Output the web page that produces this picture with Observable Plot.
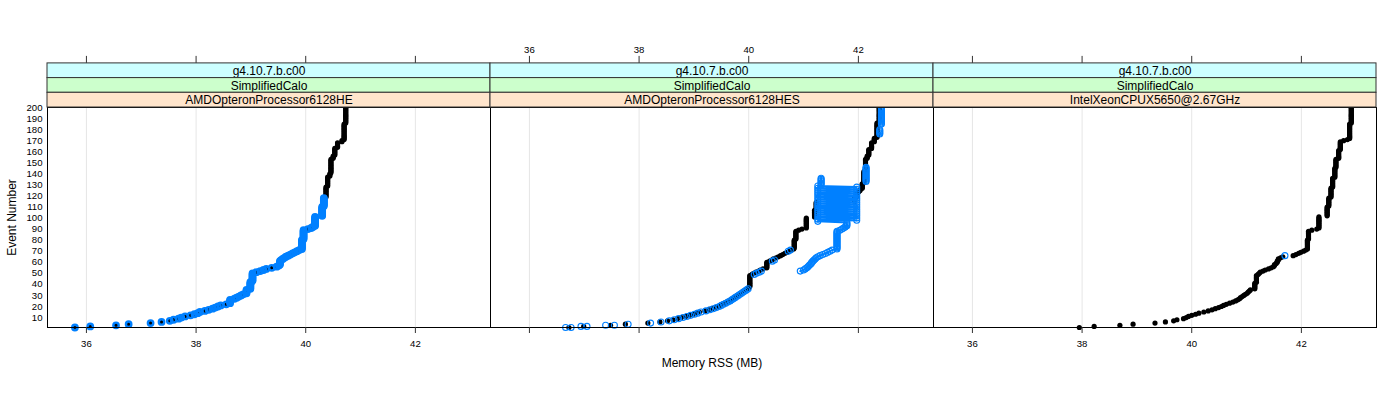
<!DOCTYPE html>
<html>
<head>
<meta charset="utf-8">
<script src="https://cdn.jsdelivr.net/npm/d3@7"></script>
<script src="https://cdn.jsdelivr.net/npm/@observablehq/plot@0.6"></script>
<style>
  body { margin: 0; background: #fff; }
</style>
</head>
<body>
<div id="chart"></div>
<script>
// ---------- data ----------
const panels = ["AMDOpteronProcessor6128HE", "AMDOpteronProcessor6128HES", "IntelXeonCPUX5650@2.67GHz"];
const stripTop = "g4.10.7.b.c00";
const stripMid = "SimplifiedCalo";
const xTicks = [36, 38, 40, 42];
const yTicks = [10, 20, 30, 40, 50, 60, 70, 80, 90, 100, 110, 120, 130, 140, 150, 160, 170, 180, 190, 200];
const xTitle = "Memory RSS (MB)";
const yTitle = "Event Number";

// Memory RSS per event, run-length encoded: [memoryMB, numberOfConsecutiveEvents]
const p1Black = [[35.79,1],[36.07,1],[36.54,1],[36.77,1],[37.17,1],[37.37,1],[37.52,1],[37.59,1],[37.68,1],[37.73,1],[37.80,1],[37.90,1],[37.97,1],[38.03,1],[38.07,1],[38.16,1],[38.23,1],[38.30,1],[38.35,1],[38.40,1],[38.45,1],[38.55,1],[38.62,4],[38.70,1],[38.74,1],[38.78,1],[38.82,1],[38.86,1],[38.92,4],[38.99,7],[39.03,8],[39.10,1],[39.17,1],[39.23,1],[39.28,1],[39.36,1],[39.45,1],[39.50,1],[39.52,4],[39.55,1],[39.58,1],[39.61,1],[39.64,1],[39.68,1],[39.72,1],[39.76,1],[39.80,1],[39.84,1],[39.88,1],[39.93,9],[39.96,9],[40.04,1],[40.10,1],[40.13,1],[40.17,9],[40.30,9],[40.33,8],[40.37,10],[40.40,9],[40.44,3],[40.46,13],[40.50,3],[40.53,7],[40.58,5],[40.66,2],[40.70,15],[40.73,15]];
const p1Blue = [[35.79,1],[36.07,1],[36.54,1],[36.77,1],[37.17,1],[37.37,1],[37.52,1],[37.59,1],[37.68,1],[37.73,1],[37.80,1],[37.90,1],[37.97,1],[38.03,1],[38.07,1],[38.16,1],[38.23,1],[38.30,1],[38.35,1],[38.40,1],[38.45,1],[38.55,1],[38.62,4],[38.70,1],[38.74,1],[38.78,1],[38.82,1],[38.86,1],[38.92,4],[38.99,7],[39.03,8],[39.10,1],[39.17,1],[39.23,1],[39.28,1],[39.38,1],[39.47,1],[39.51,1],[39.53,4],[39.55,1],[39.58,1],[39.61,1],[39.64,1],[39.68,1],[39.72,1],[39.76,1],[39.80,1],[39.84,1],[39.88,1],[39.93,9],[39.96,9],[40.04,1],[40.10,1],[40.13,1],[40.17,9],[40.30,9],[40.33,8]];

const p2Black = [[36.72,1],[36.99,1],[37.48,1],[37.75,1],[38.16,1],[38.38,1],[38.52,1],[38.62,1],[38.70,1],[38.77,1],[38.85,1],[38.92,1],[38.99,1],[39.04,1],[39.10,1],[39.20,1],[39.27,1],[39.33,1],[39.39,1],[39.44,1],[39.48,1],[39.51,1],[39.56,1],[39.60,1],[39.64,1],[39.67,1],[39.70,1],[39.73,1],[39.76,1],[39.79,1],[39.82,1],[39.85,1],[39.88,1],[39.91,1],[39.94,1],[39.97,1],[40.00,1],[40.02,11],[40.06,1],[40.09,1],[40.13,1],[40.18,1],[40.21,1],[40.26,1],[40.33,6],[40.38,1],[40.42,1],[40.45,1],[40.50,1],[40.54,1],[40.58,1],[40.62,1],[40.66,1],[40.70,1],[40.74,1],[40.78,1],[40.82,1],[40.83,8],[40.86,8],[40.91,1],[40.97,1],[41.05,10],[41.20,7],[41.23,7],[41.93,4],[41.96,4],[41.99,1],[42.01,1],[42.03,1],[42.04,1],[42.07,5],[42.10,11],[42.13,11],[42.16,3],[42.19,6],[42.24,6],[42.29,4],[42.34,14],[42.38,14]];
const p2BlueA = [[36.66,1],[36.94,1],[37.39,1],[37.80,1],[38.21,1],[38.40,1],[38.55,1],[38.64,1],[38.72,1],[38.80,1],[38.87,1],[38.94,1],[39.01,1],[39.07,1],[39.13,1],[39.22,1],[39.29,1],[39.35,1],[39.41,1],[39.46,1],[39.50,1],[39.54,1],[39.58,1],[39.62,1],[39.66,1],[39.69,1],[39.72,1],[39.75,1],[39.78,1],[39.81,1],[39.84,1],[39.87,1],[39.90,1],[39.93,1],[39.96,1],[39.99,1]];
const p2BlueA2 = [[36.76,1],[37.05,1],[37.55,1]];
const p2BlueD1 = [[40.10,1],[40.14,1],[40.19,1],[40.23,1]];
const p2BlueD2 = [[40.43,1],[40.47,1]];
const p2BlueD3 = [[40.72,1],[40.76,1]];
const p2BlueB = [[40.94,1],[41.00,1],[41.03,1],[41.06,1],[41.08,1],[41.10,1],[41.12,1],[41.14,1],[41.15,1],[41.17,1],[41.19,1],[41.21,1],[41.23,1],[41.26,1],[41.30,1],[41.35,1],[41.40,1],[41.44,1],[41.48,1],[41.52,1],[41.61,17],[41.66,1],[41.70,1],[41.73,1],[41.76,1],[41.79,4],
  [41.26,1],[41.97,1],[41.26,1],[41.97,1],[41.26,1],[41.97,1],[41.26,1],[41.97,1],[41.26,1],[41.97,1],[41.26,1],[41.97,1],[41.26,1],[41.97,1],[41.26,1],[41.97,1],
  [41.26,1],[41.97,1],[41.26,1],[41.97,1],[41.26,1],[41.97,1],[41.26,1],[41.97,1],[41.26,1],[41.97,1],[41.26,1],[41.97,1],[41.26,1],[41.97,1],[41.26,1],[41.97,1],
  [41.26,1],[41.32,7]];
const p2BlueC1 = [[42.14,14]];
const p2BlueC2 = [[42.39,5]];
const p2BlueC3 = [[42.42,16]];

const p3Black = [[37.95,1],[38.22,1],[38.69,1],[38.93,1],[39.33,1],[39.52,1],[39.67,1],[39.73,1],[39.85,1],[39.90,1],[39.94,1],[40.00,1],[40.07,1],[40.13,1],[40.22,1],[40.30,1],[40.37,1],[40.43,1],[40.49,1],[40.54,1],[40.58,1],[40.63,1],[40.69,1],[40.75,1],[40.80,1],[40.84,1],[40.87,1],[40.89,1],[40.92,1],[40.95,1],[40.98,1],[41.01,1],[41.03,1],[41.05,1],[41.07,1],[41.15,6],[41.18,7],[41.21,1],[41.23,1],[41.25,1],[41.30,1],[41.34,1],[41.40,1],[41.45,1],[41.49,1],[41.51,2],[41.54,1],[41.56,2],[41.58,2],[41.62,1],[41.66,1],[41.85,1],[41.90,1],[41.95,1],[41.99,1],[42.04,1],[42.08,1],[42.11,9],[42.13,8],[42.19,1],[42.28,1],[42.32,11],[42.47,9],[42.50,8],[42.54,9],[42.57,9],[42.61,9],[42.63,8],[42.68,8],[42.71,8],[42.77,1],[42.84,1],[42.88,14],[42.91,15]];
const p3Blue = [[41.70,1]];

// series table: [panel index, group, run id, first event, runs]
const seriesTable = [
  [0, "black", "p1k", 1, p1Black],
  [0, "blue", "p1b", 1, p1Blue],
  [1, "black", "p2k", 1, p2Black],
  [1, "blue", "p2a", 1, p2BlueA],
  [1, "blue", "p2a2", 1, p2BlueA2],
  [1, "blue", "p2d1", 49, p2BlueD1],
  [1, "blue", "p2d2", 61, p2BlueD2],
  [1, "blue", "p2d3", 70, p2BlueD3],
  [1, "blue", "p2b", 52, p2BlueB],
  [1, "blue", "p2c1", 133, p2BlueC1],
  [1, "blue", "p2c2", 176, p2BlueC2],
  [1, "blue", "p2c3", 185, p2BlueC3],
  [2, "black", "p3k", 1, p3Black],
  [2, "blue", "p3b", 66, p3Blue]
];

// decode run-length arrays into one row per event
const rows = [];
for (const [pi, group, run, start, runs] of seriesTable) {
  let e = start;
  for (const [m, n] of runs) {
    for (let k = 0; k < n; k++) rows.push({panel: panels[pi], group, run, e: e++, m});
  }
}
const blackRows = rows.filter(d => d.group === "black");
const blueRows = rows.filter(d => d.group === "blue");
const oscillatingRun = rows.filter(d => d.run === "p2b");

const tickRows = panels.flatMap(p => xTicks.map(t => ({panel: p, t})));
const yTickRows = yTicks.map(v => ({panel: panels[0], v}));

// ---------- layout ----------
const W = 1400, H = 400, ML = 47, MR = 24, MT = 107, MB = 73;
const frameH = H - MT - MB;
const RH = 14.7; // strip row height
const stripFills = ["#ccffff", "#ccffcc", "#ffe5cc"];
const stripTexts = [() => stripTop, () => stripMid, d => d];
const font = "'Liberation Sans', Arial, Helvetica, sans-serif";
const ink = "#333";

const stripMarks = [];
for (let i = 0; i < 3; i++) {
  stripMarks.push(Plot.rect(panels, {
    fx: d => d, fill: stripFills[i], stroke: ink, strokeWidth: 1,
    insetTop: -(3 - i) * RH, insetBottom: frameH + (2 - i) * RH
  }));
  stripMarks.push(Plot.text(panels, {
    fx: d => d, text: stripTexts[i], frameAnchor: "top", lineAnchor: "middle",
    dy: -(3 - i) * RH + RH / 2 + 0.3, fontSize: 12, fill: "#000"
  }));
}

const chart = Plot.plot({
  width: W, height: H,
  marginLeft: ML, marginRight: MR, marginTop: MT, marginBottom: MB,
  style: {fontFamily: font, background: "#fff", overflow: "visible"},
  fx: {domain: panels, axis: null, padding: 0},
  x: {domain: [35.29, 43.37], axis: null},
  y: {domain: [1, 200], axis: null},
  marks: [
    Plot.ruleX(tickRows, {fx: "panel", x: "t", stroke: "#e6e6e6", strokeWidth: 1}),
    Plot.dot(blackRows, {fx: "panel", x: "m", y: "e", r: 2.6, fill: "#000", stroke: "none"}),
    Plot.line(oscillatingRun, {fx: "panel", x: "m", y: "e", stroke: "#0080ff", strokeWidth: 2}),
    Plot.dot(blueRows.filter(d => d.panel === panels[0]), {fx: "panel", x: "m", y: "e", r: 2.7, fill: "none", stroke: "#0080ff", strokeWidth: 2.4}),
    Plot.dot(blueRows.filter(d => d.panel !== panels[0]), {fx: "panel", x: "m", y: "e", r: 3, fill: "none", stroke: "#0080ff", strokeWidth: 1.1}),
    Plot.frame({stroke: "#000", strokeWidth: 1}),
    ...stripMarks,
    // top ticks (above strips) and bottom ticks
    Plot.tickX(tickRows, {fx: "panel", x: "t", stroke: ink, insetTop: -(3 * RH + 7), insetBottom: frameH + 3 * RH}),
    Plot.tickX(tickRows, {fx: "panel", x: "t", stroke: ink, insetTop: frameH, insetBottom: -6}),
    Plot.text(tickRows.filter(d => d.panel === panels[1]), {fx: "panel", x: "t", text: d => String(d.t), frameAnchor: "top", lineAnchor: "middle", dy: -58, fontSize: 9.6, fill: "#000"}),
    Plot.text(tickRows.filter(d => d.panel !== panels[1]), {fx: "panel", x: "t", text: d => String(d.t), frameAnchor: "bottom", lineAnchor: "middle", dy: 16, fontSize: 9.6, fill: "#000"}),
    Plot.text(yTickRows, {fx: "panel", y: "v", text: d => String(d.v), frameAnchor: "left", dx: -5, textAnchor: "end", fontSize: 9.6, fill: "#000"}),
    Plot.text([panels[0]], {fx: d => d, text: () => yTitle, frameAnchor: "left", textAnchor: "middle", lineAnchor: "middle", dx: -35, rotate: -90, fontSize: 12, fill: "#000"}),
    Plot.text([panels[1]], {fx: d => d, text: () => xTitle, frameAnchor: "bottom", lineAnchor: "middle", dy: 36, fontSize: 12, fill: "#000"})
  ]
});
document.getElementById("chart").appendChild(chart);
</script>
</body>
</html>
